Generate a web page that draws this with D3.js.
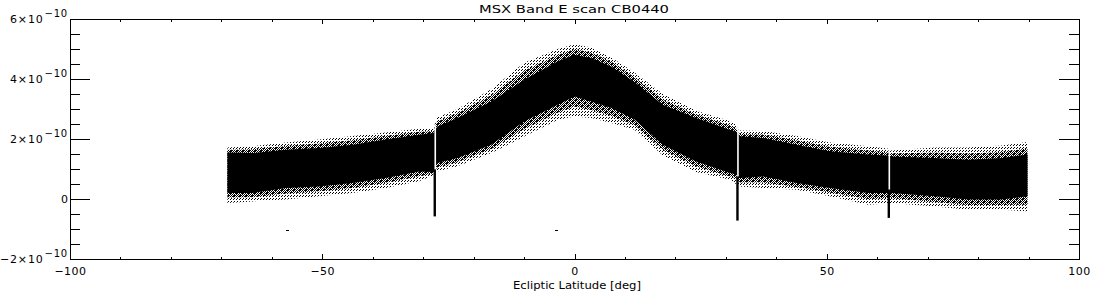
<!DOCTYPE html>
<html>
<head>
<meta charset="utf-8">
<script src="https://cdn.jsdelivr.net/npm/d3@7"></script>
<style>
  html, body { margin: 0; padding: 0; background: #fff; }
  svg { display: block; }
  text { font-family: "DejaVu Sans", "Liberation Sans", sans-serif; fill: #000; }
</style>
</head>
<body>
<svg id="chart" width="1100" height="300"></svg>
<script>
// ---- data (signal in units of 1e-10) ----
const latitudes   = [-68.8, -63.8, -57.2, -50.6, -44.0, -37.4, -30.8, -28.0, -27.2, -23.2, -16.5, -9.9, -3.3, 0.0, 3.3, 7.3, 11.9, 17.5, 24.1, 30.8, 32.0, 32.8, 37.4, 44.0, 50.6, 58.2, 62.0, 62.8, 71.4, 78.0, 84.7, 89.8];
const coreUpper   = [1.55, 1.53, 1.64, 1.70, 1.81, 1.98, 2.14, 2.20, 2.42, 2.70, 3.25, 3.98, 4.59, 4.81, 4.70, 4.42, 3.90, 3.14, 2.70, 2.31, 2.25, 2.09, 2.03, 1.81, 1.59, 1.48, 1.45, 1.42, 1.37, 1.31, 1.37, 1.48];
const coreLower   = [0.20, 0.20, 0.37, 0.42, 0.53, 0.70, 0.92, 0.90, 1.20, 1.37, 1.81, 2.59, 3.14, 3.42, 3.25, 3.03, 2.65, 1.81, 1.25, 0.87, 0.82, 0.70, 0.75, 0.53, 0.37, 0.20, 0.20, 0.20, 0.09, -0.02, -0.02, 0.09];
const midUpper    = [1.64, 1.66, 1.77, 1.85, 1.96, 2.10, 2.24, 2.27, 2.58, 2.86, 3.46, 4.28, 4.80, 5.00, 4.88, 4.58, 4.06, 3.32, 2.82, 2.46, 2.36, 2.17, 2.15, 1.96, 1.74, 1.62, 1.56, 1.52, 1.55, 1.52, 1.57, 1.68];
const midLower    = [0.05, 0.06, 0.18, 0.26, 0.37, 0.54, 0.76, 0.85, 1.05, 1.23, 1.67, 2.34, 2.88, 3.08, 2.97, 2.77, 2.47, 1.64, 1.08, 0.75, 0.70, 0.55, 0.55, 0.40, 0.22, 0.00, 0.03, 0.03, -0.10, -0.20, -0.20, -0.18];
const outerUpper  = [1.72, 1.76, 1.88, 1.98, 2.10, 2.22, 2.34, 2.34, 2.72, 3.00, 3.66, 4.55, 5.00, 5.16, 5.05, 4.72, 4.22, 3.50, 2.94, 2.60, 2.48, 2.28, 2.27, 2.10, 1.88, 1.76, 1.68, 1.62, 1.72, 1.72, 1.78, 1.90];
const outerLower  = [-0.13, -0.08, -0.02, 0.09, 0.20, 0.37, 0.59, 0.78, 0.92, 1.09, 1.53, 2.09, 2.64, 2.75, 2.70, 2.53, 2.31, 1.45, 0.90, 0.64, 0.50, 0.42, 0.37, 0.31, 0.09, -0.19, -0.15, -0.13, -0.25, -0.36, -0.36, -0.41];

// gaps in the scan with negative spikes below them
const gapLats      = [-27.6, 32.4, 62.4];
const gapTops      = [2.45, 2.40, 1.70];
const spikeLats    = [-27.7, 32.3, 62.3];
const spikeTops    = [0.98, 0.75, 0.31];
const spikeBottoms = [-0.58, -0.72, -0.63];

// isolated low samples
const dotLats   = [-57.0, -3.7];
const dotValues = [-1.04, -1.04];

// axes
const xMajorTicks  = [-100, -50, 0, 50, 100];
const xMinorTicks  = [-90, -80, -70, -60, -40, -30, -20, -10, 10, 20, 30, 40, 60, 70, 80, 90];
const xTickLabels  = ["\u2212100", "\u221250", "0", "50", "100"];
const yMajorTicks  = [-2e-10, 0, 2e-10, 4e-10, 6e-10];
const yMinorTicks  = [-1.5e-10, -1e-10, -0.5e-10, 0.5e-10, 1e-10, 1.5e-10, 2.5e-10, 3e-10, 3.5e-10, 4.5e-10, 5e-10, 5.5e-10];
const yTickMantissa = ["\u22122", "0", "2", "4", "6"];
const yTickExponent = ["\u221210", "", "\u221210", "\u221210", "\u221210"];
const unit = 1e-10;

const title  = "MSX Band E scan CB0440";
const xTitle = "Ecliptic Latitude [deg]";

// ---- drawing ----
const svg = d3.select("#chart");
const x = d3.scaleLinear().domain([-100, 100]).range([70, 1079]);
const y = d3.scaleLinear().domain([-2e-10, 6e-10]).range([259, 19]);

const defs = svg.append("defs");
const pMid = defs.append("pattern").attr("id", "pMid").attr("patternUnits", "userSpaceOnUse")
  .attr("width", 2).attr("height", 2);
pMid.append("rect").attr("x", 0).attr("y", 0).attr("width", 1).attr("height", 1).attr("fill", "#000");
pMid.append("rect").attr("x", 1).attr("y", 1).attr("width", 1).attr("height", 1).attr("fill", "#000");
const pOut = defs.append("pattern").attr("id", "pOut").attr("patternUnits", "userSpaceOnUse")
  .attr("width", 3).attr("height", 3);
pOut.append("rect").attr("x", 0).attr("y", 0).attr("width", 1).attr("height", 1).attr("fill", "#000");
pOut.append("rect").attr("x", 2).attr("y", 1).attr("width", 1).attr("height", 1).attr("fill", "#000");

function band(upper, lower) {
  return d3.area()
    .x((d, i) => x(latitudes[i]))
    .y0((d, i) => y(lower[i] * unit))
    .y1((d, i) => y(upper[i] * unit))(latitudes);
}

const plot = svg.append("g");
plot.append("path").attr("d", band(outerUpper, outerLower)).attr("fill", "url(#pOut)");
plot.append("path").attr("d", band(midUpper, midLower)).attr("fill", "url(#pMid)");
plot.append("path").attr("d", band(coreUpper, coreLower)).attr("fill", "#000");

// gaps (white lines through the band)
plot.selectAll("rect.gap").data(gapLats).join("rect").attr("class", "gap")
  .attr("x", d => x(d) - 0.8).attr("width", 1.6)
  .attr("y", (d, i) => y(gapTops[i] * unit))
  .attr("height", (d, i) => y(spikeTops[i] * unit) - y(gapTops[i] * unit))
  .attr("fill", "#fff");
// spikes
plot.selectAll("rect.spike").data(spikeLats).join("rect").attr("class", "spike")
  .attr("x", d => x(d) - 1.2).attr("width", 2.4)
  .attr("y", (d, i) => y(spikeTops[i] * unit))
  .attr("height", (d, i) => y(spikeBottoms[i] * unit) - y(spikeTops[i] * unit))
  .attr("fill", "#000");
// isolated samples
plot.selectAll("rect.dot").data(dotLats).join("rect").attr("class", "dot")
  .attr("x", d => Math.round(x(d)) - 1).attr("width", 3)
  .attr("y", (d, i) => Math.round(y(dotValues[i] * unit))).attr("height", 1)
  .attr("fill", "#000");

// frame
svg.append("rect").attr("x", 70.5).attr("y", 19.5).attr("width", 1009).attr("height", 240)
  .attr("fill", "none").attr("stroke", "#000").attr("stroke-width", 1);

function ticks(axis, transform) {
  const g = svg.append("g").attr("transform", transform).style("color", "#000").call(axis);
  g.select(".domain").remove();
  g.selectAll("text").remove();
  g.selectAll("line").attr("shape-rendering", "crispEdges");
  return g;
}
ticks(d3.axisBottom(x).tickValues(xMajorTicks).tickSize(-5).tickFormat(""), "translate(0,259)");
ticks(d3.axisBottom(x).tickValues(xMinorTicks).tickSize(-2.5).tickFormat(""), "translate(0,259)");
ticks(d3.axisTop(x).tickValues(xMajorTicks).tickSize(-5).tickFormat(""), "translate(0,19)");
ticks(d3.axisTop(x).tickValues(xMinorTicks).tickSize(-2.5).tickFormat(""), "translate(0,19)");
ticks(d3.axisLeft(y).tickValues(yMajorTicks).tickSize(-20).tickFormat(""), "translate(70,0)");
ticks(d3.axisLeft(y).tickValues(yMinorTicks).tickSize(-10).tickFormat(""), "translate(70,0)");
ticks(d3.axisRight(y).tickValues(yMajorTicks).tickSize(-20).tickFormat(""), "translate(1079,0)");
ticks(d3.axisRight(y).tickValues(yMinorTicks).tickSize(-10).tickFormat(""), "translate(1079,0)");

// x tick labels
const xl = svg.append("g").attr("transform", "translate(0,259)").style("color", "#000")
  .call(d3.axisBottom(x).tickValues(xMajorTicks).tickSize(0).tickPadding(8)
    .tickFormat((d, i) => xTickLabels[i]));
xl.select(".domain").remove();
xl.selectAll("text").attr("font-size", 11).attr("font-family", "DejaVu Sans, sans-serif")
  .attr("letter-spacing", 0.5);

// y tick labels with superscript exponent
yMajorTicks.forEach((v, i) => {
  const t = svg.append("text").attr("x", 68).attr("y", y(v) + 4)
    .attr("text-anchor", "end").attr("font-size", 11);
  if (yTickExponent[i]) {
    t.append("tspan").attr("letter-spacing", 0.8).text(yTickMantissa[i] + "\u00d710");
    t.append("tspan").attr("dy", -6).attr("dx", 1).attr("font-size", 10)
      .attr("letter-spacing", 0.8).text(yTickExponent[i]);
  } else {
    t.append("tspan").text(yTickMantissa[i]);
  }
});

// titles
svg.append("text").attr("x", 574).attr("y", 12.5).attr("text-anchor", "middle")
  .attr("font-size", 11).attr("textLength", 190).attr("lengthAdjust", "spacingAndGlyphs").text(title);
svg.append("text").attr("x", 577).attr("y", 288.5).attr("text-anchor", "middle")
  .attr("font-size", 10).attr("textLength", 128).attr("lengthAdjust", "spacingAndGlyphs").text(xTitle);
</script>
</body>
</html>
